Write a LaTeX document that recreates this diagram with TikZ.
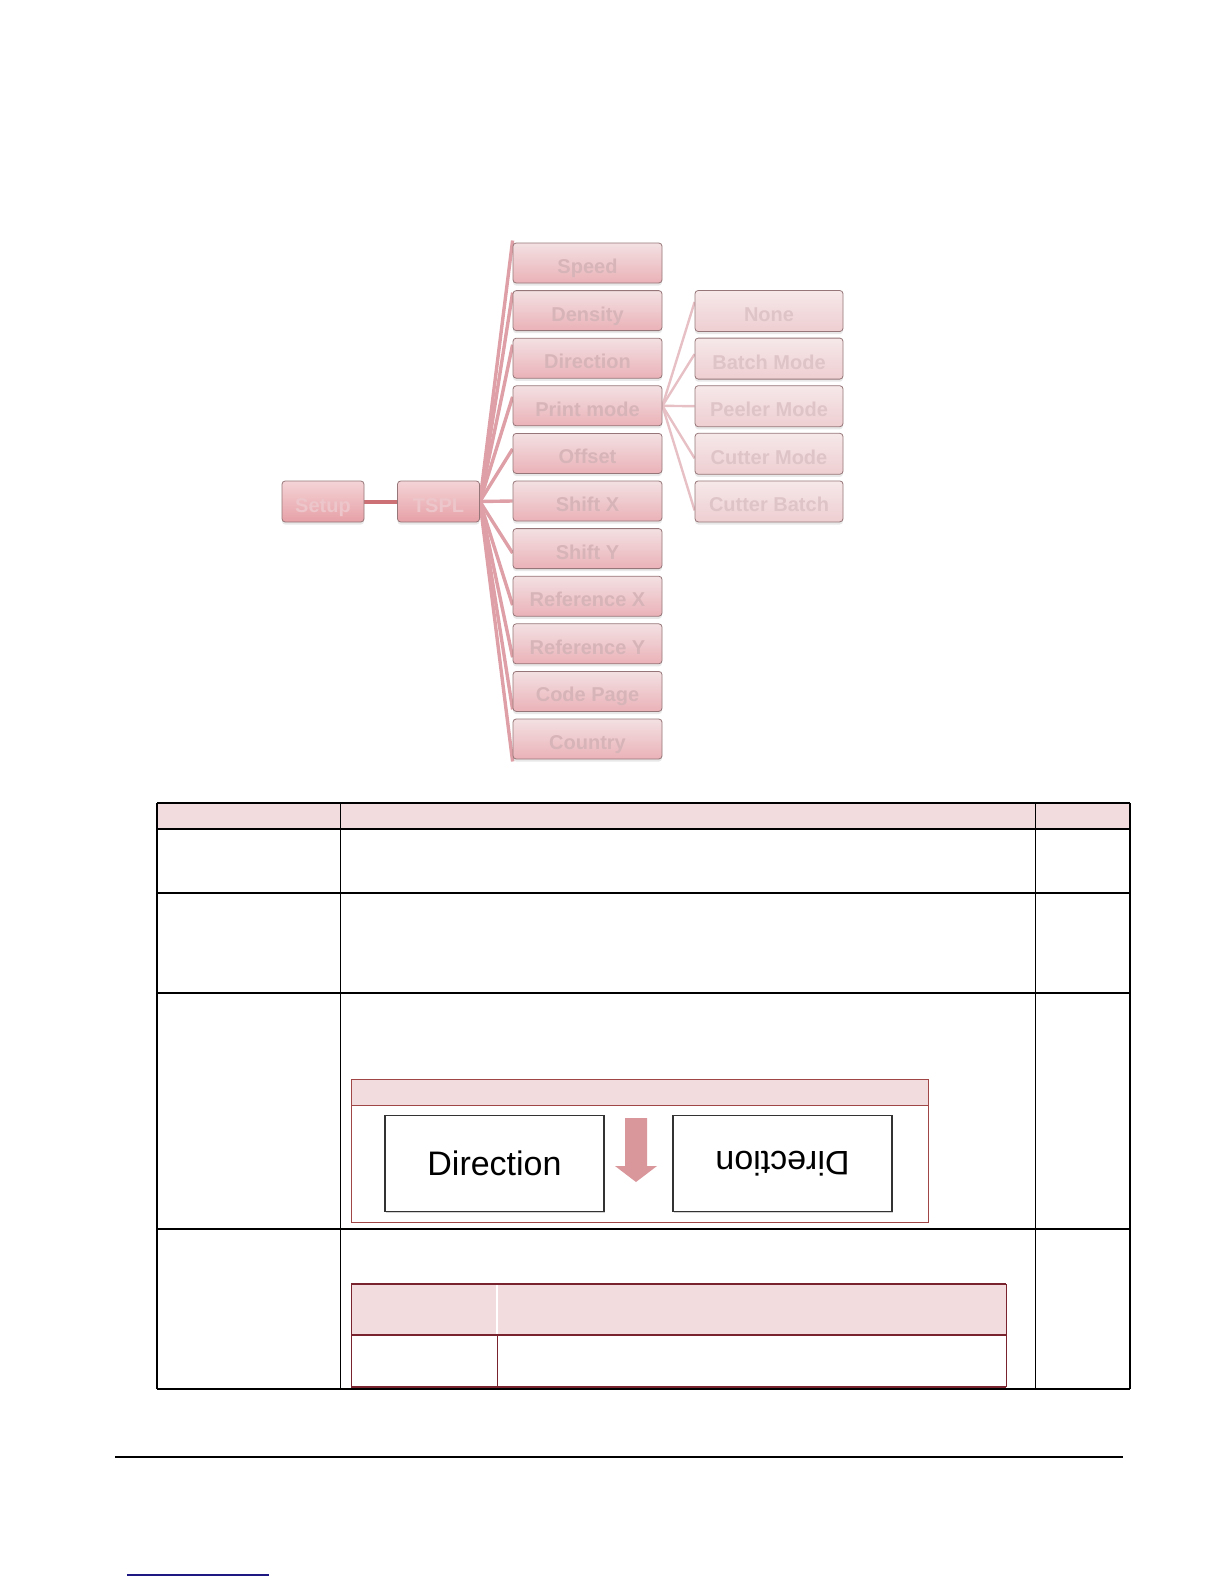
\documentclass[tikz,border=0pt]{standalone}
\usepackage{fontspec}
\setmainfont{Liberation Sans}
\usetikzlibrary{shadows,backgrounds}
\definecolor{boxedge}{RGB}{150,118,120}
\definecolor{mtop}{RGB}{243,224,226}
\definecolor{mbot}{RGB}{234,178,184}
\definecolor{stop}{RGB}{246,232,233}
\definecolor{sbot}{RGB}{238,206,209}
\definecolor{rtop}{RGB}{244,212,215}
\definecolor{rbot}{RGB}{230,160,166}
\definecolor{lblroot}{RGB}{236,198,202}
\definecolor{lblpink}{RGB}{214,180,184}
\definecolor{lblsub}{RGB}{222,196,199}
\definecolor{mainline}{RGB}{222,160,166}
\definecolor{subline}{RGB}{230,192,196}
\definecolor{rootline}{RGB}{204,112,118}
\definecolor{hdrpink}{RGB}{242,220,222}
\definecolor{darkred}{RGB}{120,35,45}
\definecolor{figred}{RGB}{160,70,70}
\definecolor{arrowpink}{RGB}{217,150,155}
\definecolor{linkblue}{RGB}{30,25,130}
\begin{document}
\begin{tikzpicture}[x=0.5pt,y=-0.5pt,
  basebox/.style={rounded corners=1.6pt, draw=boxedge, line width=0.4pt, inner sep=0pt,
     text height=12.5pt, text depth=2pt,
     font=\bfseries\fontsize{10}{12}\selectfont,
     drop shadow={shadow xshift=0pt, shadow yshift=-1.3pt, opacity=0.18}},
  rootbox/.style={basebox, top color=rtop, bottom color=rbot, minimum width=41pt, minimum height=20.5pt, text=lblroot},
  lvlbox/.style={basebox, top color=mtop, bottom color=mbot, minimum width=74.5pt, minimum height=20pt, text=lblpink},
  subbox/.style={basebox, top color=stop, bottom color=sbot, minimum width=74pt, minimum height=20.5pt, text=lblsub},
  mainconn/.style={draw=mainline, line width=1.7pt},
  subconn/.style={draw=subline, line width=1.2pt},
  tblthick/.style={draw=black, line width=0.75pt},
  tblthin/.style={draw=black, line width=0.45pt},
  innerln/.style={draw=darkred, line width=0.5pt},
  dirbox/.style={draw=black!80, line width=0.7pt, fill=white, minimum width=109.5pt, minimum height=48pt,
     drop shadow={shadow xshift=0.6pt, shadow yshift=-0.6pt, opacity=0.35}},
  dirtext/.style={font=\fontsize{17}{20}\selectfont}
]
\useasboundingbox (0,0) rectangle (1224,1584);

% ---------- tree ----------
\node[rootbox] (menu) at (323,501.5) {Setup};
\node[rootbox] (tspl) at (438.5,501.5) {TSPL};
\foreach \lbl [count=\i from 0] in {Speed,Density,Direction,Print mode,Offset,Shift X,Shift Y,Reference X,Reference Y,Code Page,Country}{
  \node[lvlbox] (m\i) at (587.5,{263+\i*47.6}) {\lbl};
}
\foreach \lbl [count=\j from 0] in {None,Batch Mode,Peeler Mode,Cutter Mode,Cutter Batch}{
  \node[subbox] (s\j) at (769,{311+\j*47.6}) {\lbl};
}
\begin{pgfonlayer}{background}
  \draw[draw=rootline, line width=2pt] (menu.east) -- (tspl.west);
  \foreach \i in {0,...,10}{
    \pgfmathsetmacro\shift{-(\i-5)*2.25}
    \draw[mainconn] (tspl.east) -- ([yshift=\shift pt]m\i.west);
  }
  \foreach \j in {0,...,4}{
    \pgfmathsetmacro\shift{-(\j-2)*2.25}
    \draw[subconn] (m3.east) -- ([yshift=\shift pt]s\j.west);
  }
\end{pgfonlayer}

% ---------- main table ----------
\fill[hdrpink] (157,803) rectangle (1130,829);
\draw[tblthick] (157,803) -- (1130,803);
\draw[tblthick] (157,829) -- (1130,829);
\draw[tblthick] (157,893) -- (1130,893);
\draw[tblthick] (157,993) -- (1130,993);
\draw[tblthick] (157,1229) -- (1130,1229);
\draw[tblthick] (157,1389) -- (1130,1389);
\draw[tblthick] (157,803) -- (157,1389);
\draw[tblthick] (1130,803) -- (1130,1389);
\draw[tblthin] (340,803) -- (340,1389);
\draw[tblthin] (1035,803) -- (1035,1389);

% ---------- direction figure ----------
\fill[hdrpink] (351,1079) rectangle (928,1105);
\draw[draw=figred, line width=0.45pt] (351,1079) rectangle (928,1222);
\draw[draw=figred, line width=0.45pt] (351,1105) -- (928,1105);
\node[dirbox] (d1) at (494.5,1163.5) {};
\node[dirbox] (d2) at (782.5,1163.5) {};
\node[dirtext] (t1) at (d1.center) {Direction};
\node[dirtext, rotate=180] (t2) at (d2.center) {Direction};
\fill[arrowpink] (625,1118) -- (647,1118) -- (647,1166) -- (657,1166) -- (636,1182) -- (615,1166) -- (625,1166) -- cycle;

% ---------- inner table ----------
\fill[hdrpink] (351,1284) rectangle (1006,1335);
\draw[draw=white, line width=0.8pt] (497,1285) -- (497,1334);
\draw[innerln, line width=0.8pt] (351,1284) -- (1006,1284);
\draw[innerln, line width=0.8pt] (351,1335) -- (1006,1335);
\draw[innerln, line width=0.8pt] (351,1387) -- (1006,1387);
\draw[innerln] (351,1284) -- (351,1387);
\draw[innerln] (1006,1284) -- (1006,1387);
\draw[innerln, line width=0.3pt] (497,1335) -- (497,1387);

% ---------- footer ----------
\draw[black, line width=0.75pt] (115,1457) -- (1123,1457);
\draw[linkblue, line width=0.6pt] (127,1575) -- (269,1575);
\end{tikzpicture}
\end{document}
